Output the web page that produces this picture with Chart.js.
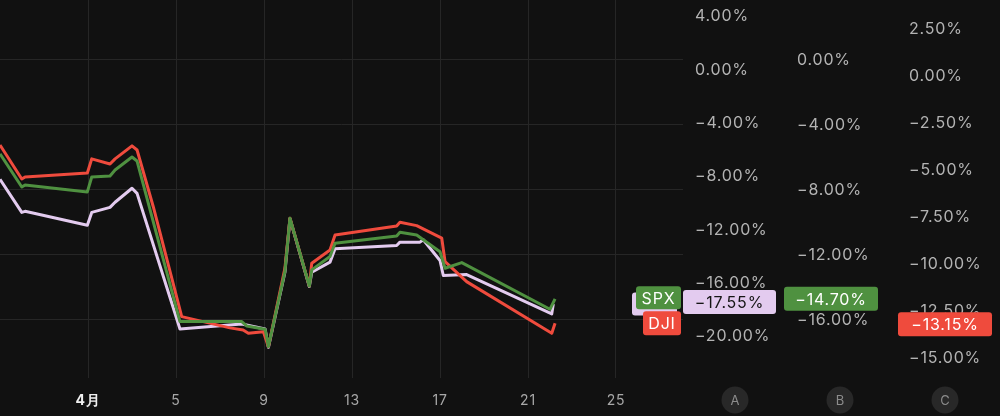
<!DOCTYPE html>
<html>
<head>
<meta charset="utf-8">
<script src="https://cdn.jsdelivr.net/npm/chart.js@4/dist/chart.umd.min.js"></script>
<style>
  html, body { margin: 0; padding: 0; background: #111111; }
  #wrap { width: 1000px; height: 416px; position: relative; }
</style>
</head>
<body>
<div id="wrap"><canvas id="myChart"></canvas></div>
<script>
// days are counted in April (0 = Mar 31), values in percent
const xTicks = [1, 5, 9, 13, 17, 21, 25];

const spxDays = [-3, -2.01, -1.86, 0.97, 1.17, 2.0, 2.23, 3.0, 3.23, 5.18, 7.99, 8.21, 9.05, 9.2, 9.95, 10.18, 11.06, 11.17, 12.0, 12.23, 15.03, 15.18, 15.94, 17.0, 17.23, 17.99, 22.0, 22.23];
const spxVals = [-5.78, -7.82, -7.69, -8.12, -7.20, -7.14, -6.77, -5.97, -6.22, -16.10, -16.10, -16.37, -16.57, -17.64, -13.03, -9.74, -13.91, -12.92, -12.10, -11.28, -10.83, -10.60, -10.77, -11.80, -12.82, -12.47, -15.34, -14.70];

const djiDays = [-3, -2.01, -1.86, 0.97, 1.17, 2.0, 2.23, 3.0, 3.23, 3.97, 5.26, 7.45, 8.05, 8.29, 8.97, 9.2, 9.95, 10.18, 11.06, 11.17, 12.0, 12.23, 15.03, 15.18, 15.94, 17.08, 17.23, 18.21, 22.08, 22.23];
const djiVals = [-3.67, -5.48, -5.37, -5.16, -4.41, -4.68, -4.41, -3.72, -3.94, -6.97, -12.80, -13.40, -13.51, -13.69, -13.60, -14.40, -10.23, -7.57, -11.17, -9.96, -9.26, -8.46, -7.98, -7.78, -7.96, -8.63, -9.88, -10.94, -13.69, -13.15];

const ixicDays = [-3, -2.01, -1.86, 0.97, 1.17, 2.0, 2.23, 3.0, 3.23, 5.18, 7.99, 9.05, 9.2, 9.95, 10.18, 11.06, 11.17, 12.0, 12.23, 15.03, 15.18, 16.09, 16.24, 17.0, 17.15, 18.21, 22.08, 22.15];
const ixicVals = [-8.20, -10.68, -10.60, -11.65, -10.68, -10.30, -9.92, -8.87, -9.25, -19.42, -19.05, -19.42, -20.80, -15.17, -11.15, -16.24, -15.17, -14.41, -13.41, -13.16, -12.91, -12.91, -12.73, -14.29, -15.41, -15.34, -18.29, -17.55];

const toPts = (d, v) => d.map((x, i) => ({ x: x, y: v[i] }));
const pct = v => (v < 0 ? '\u2212' : '') + Math.abs(v).toFixed(2) + '%';

const RED = '#ef4b3d', GREEN = '#4f9140', PINK = '#e3cbef';
const TICK_COL = '#b3b3b3';
const FONT = 'Inter, "Noto Sans", sans-serif';
const SPACING = '0.8px';

// fixed width, and no extra room for half labels at the top/bottom
const fixWidth = w => scale => {
    scale.width = w;
    scale.paddingTop = 0;
    scale.paddingBottom = 0;
};

const spacingPlugin = {
    id: 'spacing',
    beforeLayout(chart) { chart.ctx.letterSpacing = SPACING; },
    beforeDraw(chart) { chart.ctx.letterSpacing = SPACING; }
};

const tagPlugin = {
    id: 'tags',
    afterDraw(chart) {
        const ctx = chart.ctx;
        ctx.save();
        ctx.letterSpacing = SPACING;
        const box = (x, y, w, h, fill, text, color) => {
            ctx.fillStyle = fill;
            ctx.beginPath();
            ctx.roundRect(x, y - h / 2, w, h, 3);
            ctx.fill();
            if (text) {
                ctx.fillStyle = color;
                ctx.font = '16px ' + FONT;
                ctx.textAlign = 'center';
                ctx.textBaseline = 'middle';
                ctx.fillText(text, x + w / 2, y + 1);
            }
        };
        const last = a => a[a.length - 1];
        const yI = chart.scales.yA.getPixelForValue(last(ixicVals));
        const yS = chart.scales.yB.getPixelForValue(last(spxVals));
        const yD = chart.scales.yC.getPixelForValue(last(djiVals));
        // symbol tags
        box(632, yI, 45, 23, PINK, '', '#111');
        box(636, yS - 1, 45, 23, GREEN, 'SPX', '#fff');
        box(643, yD, 38, 24, RED, 'DJI', '#fff');
        // value tags
        box(683, yI - 2, 93, 24, PINK, pct(last(ixicVals)), '#151515');
        box(784, yS, 94, 24, GREEN, pct(last(spxVals)), '#fff');
        box(898, yD + 1, 94, 24, RED, pct(last(djiVals)), '#fff');
        // axis badges
        ctx.letterSpacing = '0px';
        [[735, 'A'], [840, 'B'], [945, 'C']].forEach(([cx, t]) => {
            ctx.fillStyle = '#282828';
            ctx.beginPath();
            ctx.arc(cx, 400, 13.5, 0, Math.PI * 2);
            ctx.fill();
            ctx.fillStyle = '#8c8c8c';
            ctx.font = '13px ' + FONT;
            ctx.textAlign = 'center';
            ctx.textBaseline = 'middle';
            ctx.fillText(t, cx, 401);
        });
        ctx.restore();
    }
};

const ctx = document.getElementById('myChart');
new Chart(ctx, {
    type: 'line',
    data: {
        datasets: [
            { label: 'SPX', data: toPts(spxDays, spxVals), yAxisID: 'yB', borderColor: GREEN, order: 0 },
            { label: 'DJI', data: toPts(djiDays, djiVals), yAxisID: 'yC', borderColor: RED, order: 1 },
            { label: 'IXIC', data: toPts(ixicDays, ixicVals), yAxisID: 'yA', borderColor: PINK, order: 2 },
        ]
    },
    options: {
        responsive: true,
        maintainAspectRatio: false,
        animation: false,
        layout: { padding: 0 },
        elements: {
            line: { borderWidth: 3, tension: 0, borderJoinStyle: 'round' },
            point: { radius: 0 }
        },
        scales: {
            x: {
                type: 'linear',
                min: -3,
                max: -3 + 683 / 22,
                border: { display: false },
                grid: { color: '#262626', tickLength: 8 },
                afterFit: s => { s.height = 46; s.paddingLeft = 0; s.paddingRight = 0; },
                afterBuildTicks: s => { s.ticks = xTicks.map(v => ({ value: v })); },
                ticks: {
                    padding: 14,
                    maxRotation: 0,
                    autoSkip: false,
                    callback: v => v === 1 ? '4月' : String(v),
                    color: c => c.tick && c.tick.value === 1 ? '#f0f0f0' : '#a8a8a8',
                    font: c => ({ family: FONT, size: 14, weight: c.tick && c.tick.value === 1 ? 'bold' : 'normal' })
                }
            },
            yA: {
                position: 'right',
                min: -22.5, max: 5.25,
                border: { display: false },
                grid: { display: false, drawTicks: false },
                afterFit: fixWidth(104),
                ticks: { stepSize: 4, includeBounds: false, padding: 12, color: TICK_COL, font: { family: FONT, size: 16 }, callback: pct }
            },
            yB: {
                position: 'right',
                min: -19.08, max: 3.69,
                border: { display: false },
                grid: { color: '#262626', drawTicks: false },
                afterFit: fixWidth(110),
                ticks: { stepSize: 4, includeBounds: false, padding: 10, color: TICK_COL, font: { family: FONT, size: 16 }, callback: pct }
            },
            yC: {
                position: 'right',
                min: -15.64, max: 4.04,
                border: { display: false },
                grid: { display: false, drawTicks: false },
                afterFit: fixWidth(103),
                ticks: { stepSize: 2.5, includeBounds: false, padding: 12, color: TICK_COL, font: { family: FONT, size: 16 }, callback: pct }
            }
        },
        plugins: {
            legend: { display: false },
            tooltip: { enabled: false }
        }
    },
    plugins: [spacingPlugin, tagPlugin]
});
</script>
</body>
</html>
